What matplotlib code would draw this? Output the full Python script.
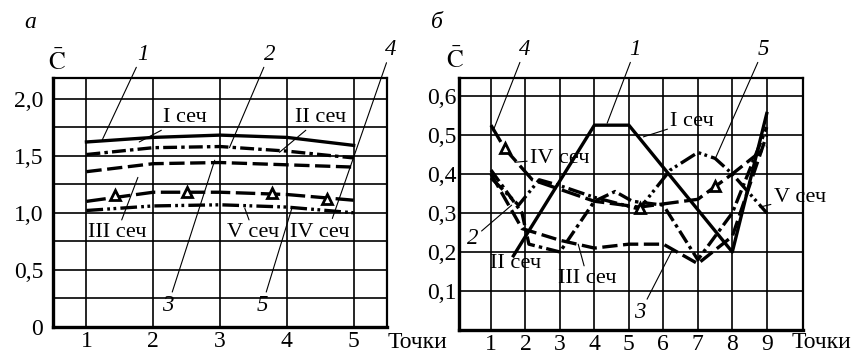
import numpy as np
import matplotlib
matplotlib.use("Agg")
import matplotlib.pyplot as plt

plt.rcParams['font.family'] = ['Liberation Serif', 'DejaVu Serif']
plt.rcParams['mathtext.fontset'] = 'stix'
plt.rcParams['lines.scale_dashes'] = False

# ---- panel a data (points 1..5) ----
pts_a = [1, 2, 3, 4, 5]
a_sec1 = [1.62, 1.66, 1.68, 1.66, 1.59]
a_sec2 = [1.51, 1.57, 1.58, 1.54, 1.48]
a_sec3 = [1.36, 1.43, 1.44, 1.42, 1.40]
a_sec4 = [1.10, 1.18, 1.18, 1.16, 1.11]
a_sec5 = [1.02, 1.06, 1.07, 1.05, 1.00]
a_tri_x = [1.43, 2.51, 3.78, 4.6]
a_tri_y = [1.16, 1.18, 1.17, 1.12]
a_yticks = [0, 0.5, 1.0, 1.5, 2.0]
a_ylabels = ['0', '0,5', '1,0', '1,5', '2,0']

# ---- panel b data (points 1..9, curves drawn through read-off points) ----
pts_b = [1, 2, 3, 4, 5, 6, 7, 8, 9]
b1_x = [1.65, 4, 5, 8, 9]
b1_y = [0.19, 0.525, 0.525, 0.20, 0.555]
b2_x = [1, 1.9, 2.1, 3, 4, 4.6, 5.1, 6, 7, 8, 9]
b2_y = [0.41, 0.30, 0.22, 0.20, 0.33, 0.355, 0.33, 0.32, 0.18, 0.30, 0.52]
b3_x = [1, 1.9, 3, 4, 5, 6, 6.4, 7, 8, 9]
b3_y = [0.40, 0.26, 0.23, 0.21, 0.22, 0.22, 0.20, 0.17, 0.24, 0.50]
b4_x = [1, 1.4, 2.2, 4, 5.3, 7, 8, 9]
b4_y = [0.525, 0.465, 0.385, 0.33, 0.315, 0.335, 0.40, 0.47]
b5_x = [1, 1.8, 2.4, 3, 4, 5.3, 6.2, 7, 7.5, 8, 9]
b5_y = [0.39, 0.32, 0.385, 0.37, 0.34, 0.31, 0.41, 0.455, 0.44, 0.40, 0.30]
b_tri_x = [1.41, 5.33, 7.51]
b_tri_y = [0.467, 0.313, 0.37]
b_yticks = [0.1, 0.2, 0.3, 0.4, 0.5, 0.6]
b_ylabels = ['0,1', '0,2', '0,3', '0,4', '0,5', '0,6']

fig = plt.figure(figsize=(8.61, 3.57), dpi=100)
ax1 = fig.add_axes([0.0616, 0.084, 0.388, 0.6975])
ax2 = fig.add_axes([0.533, 0.0756, 0.3996, 0.706])

LW = 2.4
TICK_FS = 17
SEC_FS = 16
NUM_FS = 16.5
styles = {
    1: dict(ls='-'),
    2: dict(dashes=(10, 3, 2.5, 3)),
    3: dict(dashes=(11, 4)),
    4: dict(dashes=(14, 4)),
    5: dict(dashes=(12, 3, 2, 2.5, 2, 3)),
}


def setup(ax, xlim, ylim, xt, yt, ylab, hgrid, pad_y):
    ax.set_xlim(*xlim)
    ax.set_ylim(*ylim)
    ax.set_xticks(xt)
    ax.set_xticklabels([str(v) for v in xt], fontsize=TICK_FS)
    ax.set_yticks(yt)
    ax.set_yticklabels(ylab, fontsize=TICK_FS)
    ax.tick_params(length=0, pad=pad_y, axis='y')
    ax.tick_params(length=0, pad=3, axis='x')
    for v in xt:
        ax.axvline(v, color='black', lw=1.2, zorder=1)
    for v in hgrid:
        ax.axhline(v, color='black', lw=1.2, zorder=1)
    for s in ['top', 'right']:
        ax.spines[s].set_linewidth(1.6)
    for s in ['left', 'bottom']:
        ax.spines[s].set_linewidth(2.4)


setup(ax1, (0.5, 5.5), (0, 2.18), pts_a, a_yticks, a_ylabels,
      np.arange(0.25, 2.01, 0.25), 7)
setup(ax2, (0.07, 10.05), (0, 0.646), pts_b, b_yticks, b_ylabels,
      b_yticks, 2)

# panel a curves
for ys, k in [(a_sec1, 1), (a_sec2, 2), (a_sec3, 3), (a_sec4, 4), (a_sec5, 5)]:
    ax1.plot(pts_a, ys, color='black', lw=LW, zorder=3, **styles[k])
ax1.plot(a_tri_x, a_tri_y, ls='none', marker='^', ms=7, mfc='white',
         mec='black', mew=2, zorder=4)

# panel b curves
for xs, ys, k in [(b1_x, b1_y, 1), (b2_x, b2_y, 2), (b3_x, b3_y, 3),
                  (b4_x, b4_y, 4), (b5_x, b5_y, 5)]:
    ax2.plot(xs, ys, color='black', lw=LW, zorder=3, **styles[k])
ax2.plot(b_tri_x, b_tri_y, ls='none', marker='^', ms=7, mfc='white',
         mec='black', mew=2, zorder=4)


def lab(ax, text, xy, xytext, italic=False, size=SEC_FS, ha='center'):
    ax.annotate(text, xy=xy, xytext=xytext, textcoords='data',
                ha=ha, va='center', fontsize=size,
                fontstyle='italic' if italic else 'normal',
                annotation_clip=False, zorder=5,
                arrowprops=dict(arrowstyle='-', lw=0.8, color='black',
                                shrinkA=0, shrinkB=0))


# panel a labels
lab(ax1, '1', (1.23, 1.63), (1.84, 2.39), italic=True, size=NUM_FS)
lab(ax1, '2', (3.14, 1.57), (3.74, 2.39), italic=True, size=NUM_FS)
lab(ax1, '4', (4.68, 0.95), (5.56, 2.43), italic=True, size=NUM_FS)
lab(ax1, '3', (2.92, 1.46), (2.22, 0.19), italic=True, size=NUM_FS)
lab(ax1, '5', (4.08, 1.05), (3.63, 0.19), italic=True, size=NUM_FS)
lab(ax1, 'I сеч', (1.79, 1.62), (2.14, 1.83), ha='left')
lab(ax1, 'II сеч', (3.89, 1.53), (4.12, 1.83), ha='left')
lab(ax1, 'III сеч', (1.77, 1.31), (1.02, 0.83), ha='left')
lab(ax1, 'V сеч', (3.37, 1.04), (3.11, 0.83), ha='left')
ax1.text(4.04, 0.83, 'IV сеч', fontsize=SEC_FS, ha='left', va='center',
         zorder=5)

# panel b labels
lab(ax2, '4', (1.06, 0.51), (1.99, 0.72), italic=True, size=NUM_FS)
lab(ax2, '1', (4.37, 0.53), (5.19, 0.72), italic=True, size=NUM_FS)
lab(ax2, '5', (7.51, 0.44), (8.91, 0.72), italic=True, size=NUM_FS)
lab(ax2, 'I сеч', (5.42, 0.495), (6.2, 0.535), ha='left')
lab(ax2, 'IV сеч', (1.7, 0.43), (2.13, 0.44), ha='left')
lab(ax2, '2', (1.6, 0.32), (0.48, 0.235), italic=True, size=NUM_FS)
ax2.text(0.97, 0.17, 'II сеч', fontsize=SEC_FS, ha='left', va='center',
         zorder=5)
lab(ax2, 'III сеч', (3.53, 0.22), (2.95, 0.133), ha='left')
lab(ax2, '3', (6.26, 0.205), (5.33, 0.045), italic=True, size=NUM_FS)
lab(ax2, 'V сеч', (8.8, 0.315), (9.2, 0.34), ha='left')

# axis titles
fig.text(57 / 861, 1 - 62 / 357, r'$\bar{\mathrm{C}}$', fontsize=18,
         ha='center', va='center')
fig.text(455 / 861, 1 - 60 / 357, r'$\bar{\mathrm{C}}$', fontsize=18,
         ha='center', va='center')
fig.text(30 / 861, 1 - 22 / 357, 'а', fontsize=17, fontstyle='italic',
         ha='center', va='center')
fig.text(437 / 861, 1 - 22 / 357, 'б', fontsize=17, fontstyle='italic',
         ha='center', va='center')
fig.text(388 / 861, 1 - 343 / 357, 'Точки', fontsize=TICK_FS, ha='left',
         va='center')
fig.text(792 / 861, 1 - 343 / 357, 'Точки', fontsize=TICK_FS, ha='left',
         va='center')

fig.savefig('out.png', dpi=100)
